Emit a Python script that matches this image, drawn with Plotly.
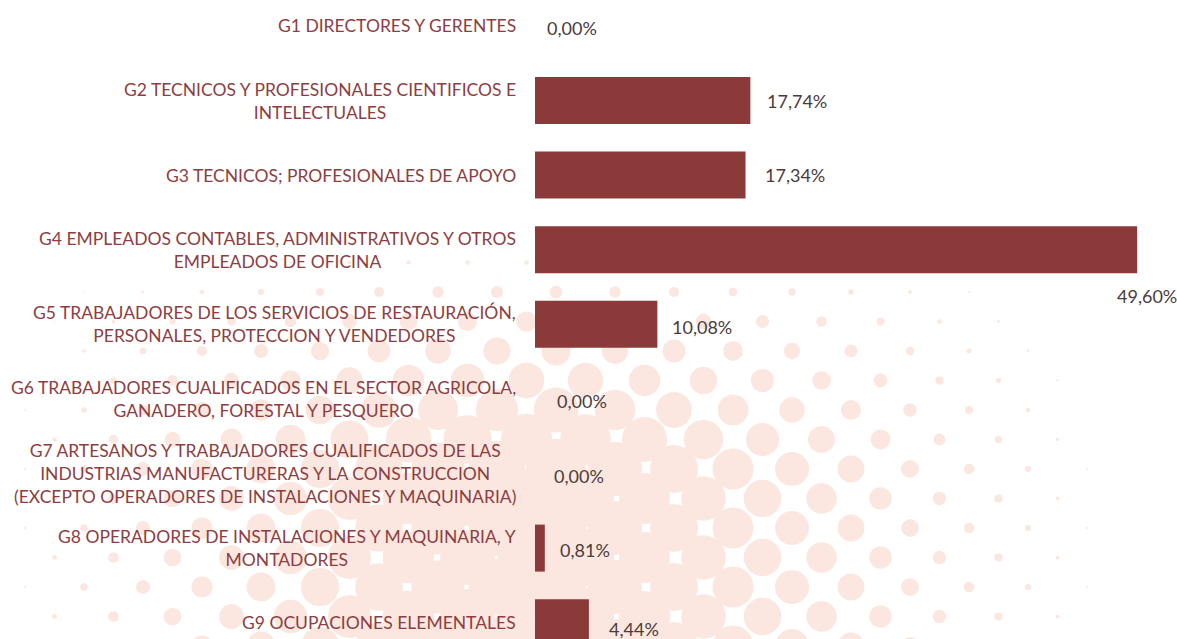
import numpy as np
import plotly.graph_objects as go

# Occupational groups (CNO) and their share of hires, in percent
categories = [
    "G1 DIRECTORES Y GERENTES",
    "G2 TECNICOS Y PROFESIONALES CIENTIFICOS E<br>INTELECTUALES",
    "G3 TECNICOS; PROFESIONALES DE APOYO",
    "G4 EMPLEADOS CONTABLES, ADMINISTRATIVOS Y OTROS<br>EMPLEADOS DE OFICINA",
    "G5 TRABAJADORES DE LOS SERVICIOS DE RESTAURACIÓN,<br>PERSONALES, PROTECCION Y VENDEDORES",
    "G6 TRABAJADORES CUALIFICADOS EN EL SECTOR AGRICOLA,<br>GANADERO, FORESTAL Y PESQUERO",
    "G7 ARTESANOS Y TRABAJADORES CUALIFICADOS DE LAS<br>INDUSTRIAS MANUFACTURERAS Y LA CONSTRUCCION<br>(EXCEPTO OPERADORES DE INSTALACIONES Y MAQUINARIA)",
    "G8 OPERADORES DE INSTALACIONES Y MAQUINARIA, Y<br>MONTADORES",
    "G9 OCUPACIONES ELEMENTALES",
]
values = [0.00, 17.74, 17.34, 49.60, 10.08, 0.00, 0.00, 0.81, 4.44]

W, H = 1177, 639
BAR = "#8b3a3a"
LABEL = "#8d3e42"
VALUE = "#4a3c3c"
FONT = "Lato"

# value label nudges (px) away from the bar end
label_dx = [10, 15, 17, -22, 13, 20, 17, 13, 18]
label_dy = [-2, 0, 0, -46, -3, -2, -2, -2, -6]

positions = list(range(len(categories)))
label_text = [f"{v:.2f}".replace(".", ",") + "%" for v in values]

fig = go.Figure()
fig.add_trace(go.Bar(
    x=values, y=positions, orientation="h",
    marker=dict(color=BAR, line=dict(width=0)),
    width=0.63, hoverinfo="skip",
))

annotations = []
for i, (cat, v, txt) in enumerate(zip(categories, values, label_text)):
    annotations.append(dict(
        xref="paper", yref="y", x=518 / W, y=i,
        xanchor="right", yanchor="middle", align="center",
        text=cat, showarrow=False,
        font=dict(family=FONT, size=17.5, color=LABEL),
    ))
    annotations.append(dict(
        xref="x", yref="y", x=v, y=i,
        xanchor="left", yanchor="middle",
        xshift=label_dx[i], yshift=label_dy[i],
        text=txt, showarrow=False,
        font=dict(family=FONT, size=18, color=VALUE),
    ))

# decorative halftone backdrop: peach dots on a 45-degree lattice that
# grow until they merge (leaving white holes) around the lower middle
shapes = []
step_x, step_y = 59.0, 29.5
x_origin, y_origin = 556.0, 292.0
rmax = 30.0
gx_knots = [0, 100, 250, 400, 560, 700, 850, 950, 1050, 1120]
gx_vals = [0.0, 0.15, 0.45, 0.85, 1.0, 0.75, 0.45, 0.2, 0.07, 0.0]
for j in range(-10, 14):
    py = y_origin + j * step_y
    if py < 240 or py > H + 30:
        continue
    h = np.clip((py - 245.0) / 220.0, 0, 1)
    off = step_x / 2 if j % 2 else 0.0
    for k in range(-12, 12):
        px = x_origin + k * step_x + off
        g = np.interp(px, gx_knots, gx_vals)
        r = rmax * g * h
        if r < 0.8:
            continue
        shapes.append(dict(
            type="circle", xref="paper", yref="paper", layer="below",
            x0=(px - r) / W, x1=(px + r) / W,
            y0=1 - (py + r) / H, y1=1 - (py - r) / H,
            fillcolor="#fbe7df", line=dict(width=0),
        ))

fig.update_layout(
    width=W, height=H,
    margin=dict(l=0, r=0, t=0, b=0),
    paper_bgcolor="white", plot_bgcolor="rgba(0,0,0,0)",
    showlegend=False,
    annotations=annotations,
    shapes=shapes,
    xaxis=dict(domain=[535 / W, 1], range=[0, 642 / 12.14],
               visible=False, fixedrange=True),
    yaxis=dict(range=[(H - 25.9) / 74.6, -25.9 / 74.6],
               visible=False, fixedrange=True),
)

fig.write_html("out.html")
